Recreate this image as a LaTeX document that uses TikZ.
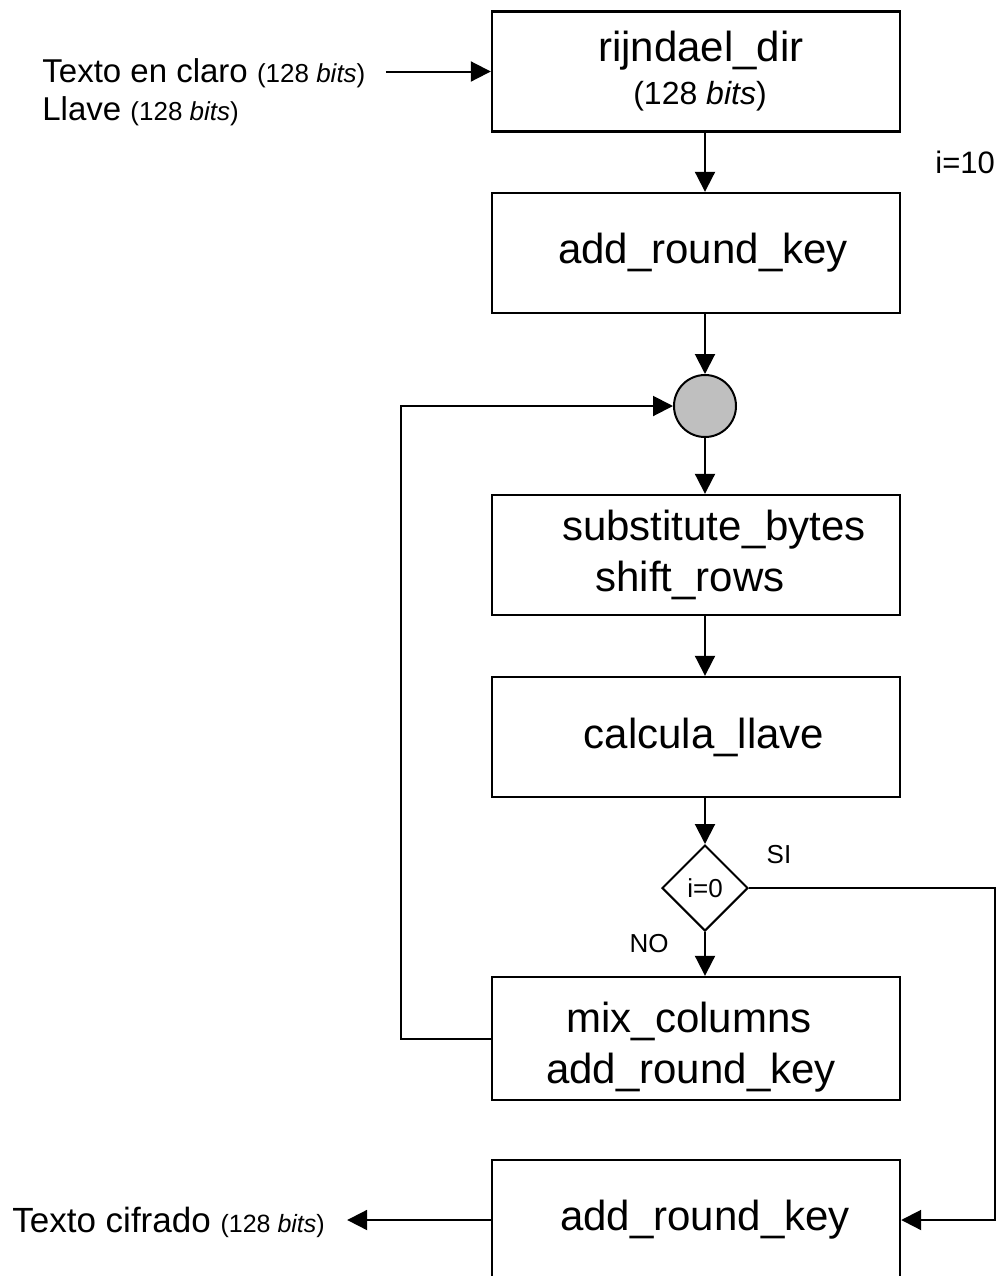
\documentclass[tikz,border=0pt]{standalone}
\usepackage{fontspec}
\setmainfont{Liberation Sans}
\usetikzlibrary{arrows.meta, shapes.geometric}

\begin{document}
\begin{tikzpicture}[x=0.5pt, y=-0.5pt,
    blk/.style={draw, line width=1.2pt, minimum width=204pt, minimum height=60pt, inner sep=0pt, align=center, font=\fontsize{21}{25.5}\selectfont},
    dec/.style={draw, diamond, line width=1pt, minimum width=43pt, minimum height=43pt, inner sep=0pt, font=\fontsize{13}{15}\selectfont},
    junc/.style={draw, circle, fill=black!25, line width=1pt, minimum size=31pt, inner sep=0pt},
    lbl/.style={inner sep=0pt, font=\fontsize{16.5}{19}\selectfont},
    sml/.style={inner sep=0pt, font=\fontsize{13}{15}\selectfont},
    arr/.style={-{Triangle[length=10pt, width=10pt]}, line width=1pt}]
  \clip (0,0) rectangle (1000,1276);

  % bloques del cifrado
  \node[blk] (rij) at (696,71.5) {\hspace*{5pt}rijndael\_dir\\[-4pt]{\fontsize{16}{19}\selectfont\hspace*{4pt}(128 \textit{bits})}};
  \node[blk] (ark) at (696,253) {\hspace*{7pt}add\_round\_key};
  \node[junc] (cir) at (705,406) {};
  \node[blk] (sub) at (696,555) {\hspace*{18pt}substitute\_bytes\\shift\_rows\hspace*{6pt}};
  \node[blk] (cal) at (696,737) {\hspace*{8pt}calcula\_llave};
  \node[dec] (dec) at (705,888) {i=0};
  \node[blk, minimum height=61.5pt] (mix) at (696,1038.5) {\rule{0pt}{24pt}mix\_columns\hspace*{7pt}\\add\_round\_key\hspace*{5pt}};
  \node[blk] (fin) at (696,1220) {\hspace*{9pt}add\_round\_key};

  % textos
  \node[lbl, anchor=base west] (in1) at (42,82) {Texto en claro {\fontsize{13}{15}\selectfont(128 \textit{bits})}};
  \node[lbl, anchor=base west] (in2) at (42,120) {Llave {\fontsize{13}{15}\selectfont(128 \textit{bits})}};
  \node[lbl, anchor=base west, font=\fontsize{17.5}{20}\selectfont] (out) at (12,1232) {Texto cifrado {\fontsize{12.5}{15}\selectfont(128 \textit{bits})}};
  \node[lbl, anchor=base west, font=\fontsize{15.5}{18}\selectfont] (cnt) at (935,173) {i=10};
  \node[sml] (si) at (779,855) {SI};
  \node[sml] (no) at (649,944) {NO};

  % flechas
  \draw[arr] ([xshift=10pt]in1.east |- rij.west) -- (rij.west);
  \draw[arr] (rij.south -| cir) -- (ark.north -| cir);
  \draw[arr] (ark.south -| cir) -- (cir.north);
  \draw[arr] (cir.south) -- (sub.north -| cir);
  \draw[arr] (sub.south -| cir) -- (cal.north -| cir);
  \draw[arr] (cal.south -| cir) -- (dec.north);
  \draw[arr] (dec.south) -- (mix.north -| dec);
  \draw[arr] (mix.west) -- ++(-90,0) |- (cir.west);
  \draw[arr] (dec.east) -- ++(246,0) |- (fin.east);
  \draw[arr] (fin.west) -- ([xshift=11pt]out.east |- fin.west);
\end{tikzpicture}
\end{document}
